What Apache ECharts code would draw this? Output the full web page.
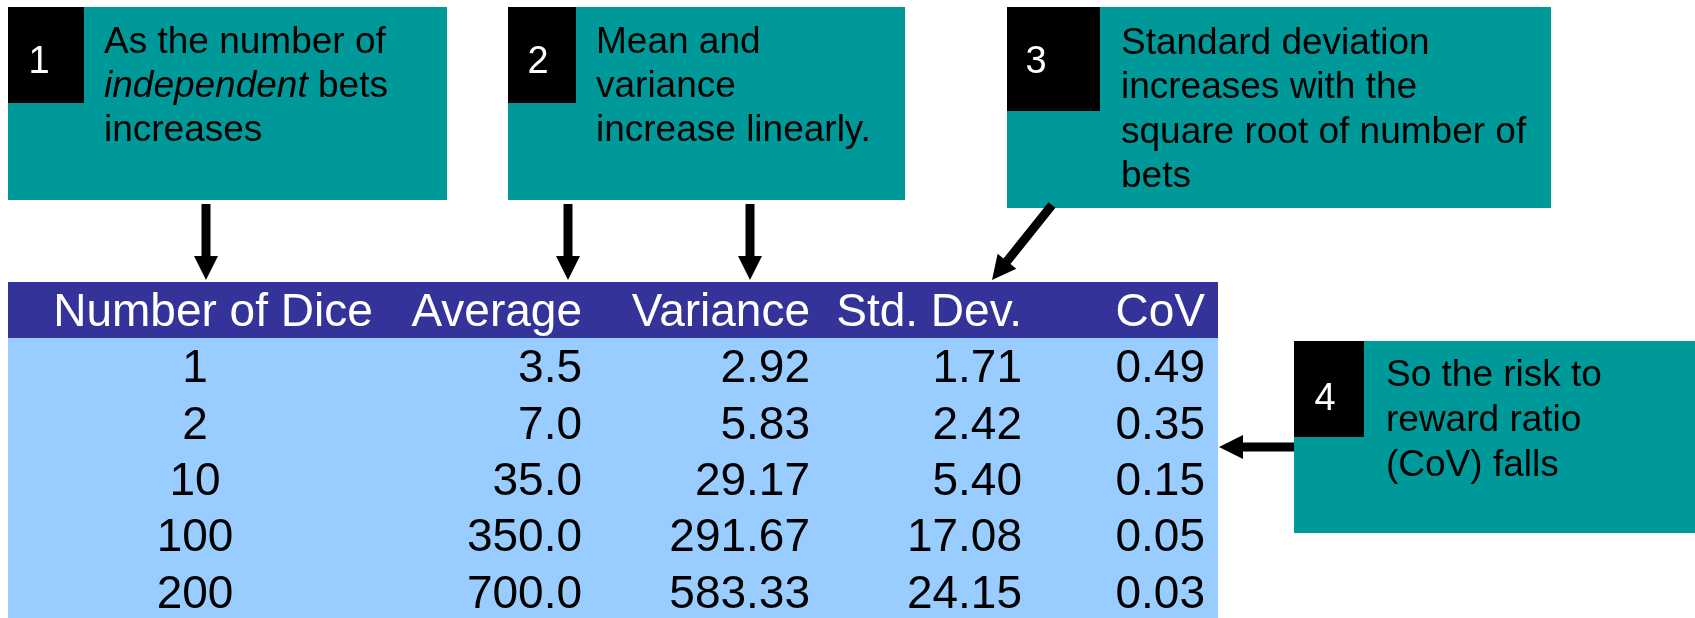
<!DOCTYPE html>
<html>
<head>
<meta charset="utf-8">
<title>Dice bets: mean, variance and CoV</title>
<script src="https://cdn.jsdelivr.net/npm/echarts@6/dist/echarts.min.js"></script>
<style>
  html, body { margin: 0; padding: 0; background: #ffffff; }
  #chart { width: 1695px; height: 618px; }
</style>
</head>
<body>
<div id="chart"></div>
<script>
// Table contents
const headers = ['Number of Dice', 'Average', 'Variance', 'Std. Dev.', 'CoV'];
const dice = [1, 2, 10, 100, 200];
const average = [3.5, 7.0, 35.0, 350.0, 700.0];
const variance = [2.92, 5.83, 29.17, 291.67, 583.33];
const stdDev = [1.71, 2.42, 5.40, 17.08, 24.15];
const cov = [0.49, 0.35, 0.15, 0.05, 0.03];
const decimals = [0, 1, 2, 2, 2];

// Call-out notes (rich text: {i|...} is italic)
const noteNumbers = ['1', '2', '3', '4'];
const noteTexts = [
  'As the number of\n{i|independent} bets\nincreases',
  'Mean and\nvariance\nincrease linearly.',
  'Standard deviation\nincreases with the\nsquare root of number of\nbets',
  'So the risk to\nreward ratio\n(CoV) falls'
];

const TEAL = '#009999';
const NAVY = '#333399';
const LIGHT = '#99CCFF';
const FONT = '"Liberation Sans", Arial, Helvetica, sans-serif';

const chart = echarts.init(document.getElementById('chart'), null, { renderer: 'canvas' });

const elements = [];

// ---- table ----
const table = { left: 8, right: 1218, headTop: 282, headBottom: 338, bottom: 618 };
elements.push({ type: 'rect', shape: { x: table.left, y: table.headBottom, width: table.right - table.left, height: table.bottom - table.headBottom }, style: { fill: LIGHT } });
elements.push({ type: 'rect', shape: { x: table.left, y: table.headTop, width: table.right - table.left, height: table.headBottom - table.headTop }, style: { fill: NAVY } });

const cols = [
  { head: 213, headAlign: 'center', data: 195, dataAlign: 'center' },
  { head: 582, headAlign: 'right', data: 582, dataAlign: 'right' },
  { head: 810, headAlign: 'right', data: 810, dataAlign: 'right' },
  { head: 1022, headAlign: 'right', data: 1022, dataAlign: 'right' },
  { head: 1205, headAlign: 'right', data: 1205, dataAlign: 'right' }
];
const tableFont = 46;
const headY = 313;
const rowY = [369, 426, 482, 538, 595];
const columns = [dice, average, variance, stdDev, cov];

function cellText(x, y, text, align, color) {
  return {
    type: 'text', x: x, y: y,
    style: { text: text, x: 0, y: 0, align: align, verticalAlign: 'middle', fill: color, fontSize: tableFont, fontFamily: FONT }
  };
}
headers.forEach((h, c) => elements.push(cellText(cols[c].head, headY, h, cols[c].headAlign, '#ffffff')));
columns.forEach((arr, c) => {
  arr.forEach((v, r) => elements.push(cellText(cols[c].data, rowY[r], v.toFixed(decimals[c]), cols[c].dataAlign, '#000000')));
});

// ---- call-out boxes ----
const boxes = [
  { x: 8, y: 7, w: 439, h: 193, bw: 76, bh: 96, numX: 39, numY: 63, textX: 104, textY: 21, lh: 44, fs: 37 },
  { x: 508, y: 7, w: 397, h: 193, bw: 68, bh: 96, numX: 538, numY: 63, textX: 596, textY: 21, lh: 44, fs: 37 },
  { x: 1007, y: 7, w: 544, h: 201, bw: 93, bh: 104, numX: 1036, numY: 63, textX: 1121, textY: 21, lh: 44.6, fs: 37 },
  { x: 1294, y: 341, w: 401, h: 192, bw: 70, bh: 96, numX: 1325, numY: 400, textX: 1386, textY: 353, lh: 45, fs: 37 }
];
boxes.forEach((b, i) => {
  elements.push({ type: 'rect', shape: { x: b.x, y: b.y, width: b.w, height: b.h }, style: { fill: TEAL } });
  elements.push({ type: 'rect', shape: { x: b.x, y: b.y, width: b.bw, height: b.bh }, style: { fill: '#000000' } });
  elements.push({
    type: 'text', x: b.numX, y: b.numY,
    style: { text: noteNumbers[i], x: 0, y: 0, align: 'center', verticalAlign: 'middle', fill: '#ffffff', fontSize: 38, fontFamily: FONT }
  });
  elements.push({
    type: 'text', x: b.textX, y: b.textY,
    style: {
      text: noteTexts[i], x: 0, y: 0, align: 'left', verticalAlign: 'top',
      fill: '#000000', fontSize: b.fs, fontFamily: FONT, lineHeight: b.lh,
      rich: { i: { fontStyle: 'italic', fontSize: b.fs, fontFamily: FONT, lineHeight: b.lh, fill: '#000000' } }
    }
  });
});

// ---- arrows ----
function arrow(x1, y1, x2, y2) {
  const shaftW = 9, headL = 24, headW = 24;
  const len = Math.hypot(x2 - x1, y2 - y1);
  const dx = (x2 - x1) / len, dy = (y2 - y1) / len;
  const nx = -dy, ny = dx;
  const bx = x2 - dx * headL, by = y2 - dy * headL;
  const pts = [
    [x1 + nx * shaftW / 2, y1 + ny * shaftW / 2],
    [bx + nx * shaftW / 2, by + ny * shaftW / 2],
    [bx + nx * headW / 2, by + ny * headW / 2],
    [x2, y2],
    [bx - nx * headW / 2, by - ny * headW / 2],
    [bx - nx * shaftW / 2, by - ny * shaftW / 2],
    [x1 - nx * shaftW / 2, y1 - ny * shaftW / 2]
  ];
  return { type: 'polygon', shape: { points: pts }, style: { fill: '#000000' } };
}
elements.push(arrow(206, 204, 206, 280));
elements.push(arrow(568, 204, 568, 280));
elements.push(arrow(750, 204, 750, 280));
elements.push(arrow(1052, 205, 992, 280));
elements.push(arrow(1294, 447, 1219, 447));

chart.setOption({
  backgroundColor: '#ffffff',
  animation: false,
  graphic: { elements: elements }
});
</script>
</body>
</html>
